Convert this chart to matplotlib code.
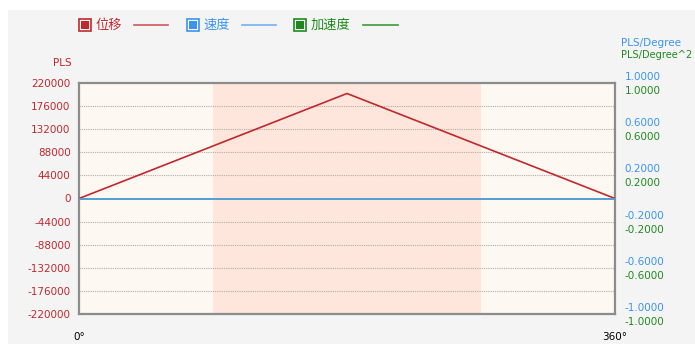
import matplotlib
matplotlib.use("Agg")
import matplotlib.pyplot as plt
import matplotlib.transforms as mtransforms
from matplotlib.lines import Line2D
from matplotlib.patches import Rectangle

plt.rcParams['font.family'] = ['DejaVu Sans', 'Noto Sans CJK SC']

# data
angles = [0, 180, 360]
displacement = [0, 200000, 0]
velocity = [0, 0, 0]
acceleration = [0, 0, 0]
zone = [90, 270]
left_ticks = [-220000, -176000, -132000, -88000, -44000, 0,
              44000, 88000, 132000, 176000, 220000]
right_ticks = [-1.0, -0.6, -0.2, 0.2, 0.6, 1.0]
legend_names = ["位移", "速度", "加速度"]

RED = "#c0282d"
BLUE = "#3a94f0"
GREEN = "#1e8a1e"
W, H = 695, 344

fig = plt.figure(figsize=(W / 100, H / 100), dpi=100, facecolor="white")
fig.patches.append(Rectangle((8 / W, 0), 1, 1 - 10 / H, transform=fig.transFigure,
                             facecolor="#f4f4f4", edgecolor="none", zorder=-10))

ax = fig.add_axes([79 / W, 30 / H, 536 / W, 231 / H])
ax.set_facecolor("#fdf8f1")
ax.axvspan(zone[0], zone[1], color="#fee6dc", lw=0, zorder=0)
ax.set_xlim(0, 360)
ax.set_ylim(-220000, 220000)
for v in left_ticks[1:-1]:
    if v != 0:
        ax.axhline(v, color="#b4aca4", lw=0.8, ls=(0, (1, 1)), zorder=1)
ax.plot(angles, displacement, color=RED, lw=1.2, zorder=4)

ax.set_yticks(left_ticks)
ax.set_yticklabels([str(v) for v in left_ticks])
ax.tick_params(axis="y", length=0, pad=6, labelsize=7.5, labelcolor=RED)
ax.set_xticks([0, 360])
ax.set_xticklabels(["0°", "360°"])
ax.tick_params(axis="x", length=0, pad=13, labelsize=7.5, labelcolor="black")
for s in ax.spines.values():
    s.set_color("#8c8c8c")
    s.set_linewidth(1.6)

# right axes: acceleration (green) under velocity (blue)
ax_a = ax.twinx()
ax_v = ax.twinx()
for a, col, dy in [(ax_v, BLUE, 7), (ax_a, GREEN, -7)]:
    a.set_ylim(-1, 1)
    a.set_yticks(right_ticks)
    a.set_yticklabels(["%.4f" % v for v in right_ticks])
    a.tick_params(axis="y", length=0, pad=7, labelsize=7.5, labelcolor=col)
    shift = mtransforms.ScaledTranslation(0, dy / 100, fig.dpi_scale_trans)
    for lbl in a.get_yticklabels():
        lbl.set_transform(lbl.get_transform() + shift)
    for s in a.spines.values():
        s.set_visible(False)
ax_a.plot(angles, acceleration, color=GREEN, lw=1.2, zorder=3)
ax_v.plot(angles, velocity, color="#5aa2f0", lw=1.2, zorder=3)

# axis titles
fig.text(72 / W, 1 - 63 / H, "PLS", color=RED, fontsize=7.5, ha="right", va="center")
fig.text(621 / W, 1 - 43 / H, "PLS/Degree", color=BLUE, fontsize=7.5, ha="left", va="center")
fig.text(621 / W, 1 - 55 / H, "PLS/Degree^2", color=GREEN, fontsize=7.1, ha="left", va="center")

# legend
legend_cols = [RED, BLUE, GREEN]
legend_line_cols = ["#d05858", "#70b0f4", "#3a9a3a"]
sq_x = [85, 193, 300]
txt_x = [96, 203, 311]
ln_x = [(134, 168), (242, 276), (363, 398)]
ly = 1 - 25 / H
for name, c, lc, sx, tx, (x0, x1) in zip(legend_names, legend_cols, legend_line_cols,
                                         sq_x, txt_x, ln_x):
    fig.add_artist(Line2D([sx / W], [ly], marker="s", markersize=8.5, markerfacecolor="white",
                          markeredgecolor=c, markeredgewidth=1.2, transform=fig.transFigure))
    fig.add_artist(Line2D([sx / W], [ly], marker="s", markersize=5.5, markerfacecolor=c,
                          markeredgecolor=c, markeredgewidth=0, transform=fig.transFigure))
    fig.text(tx / W, ly, name, color=c, fontsize=9.5, ha="left", va="center",
             family=["Noto Sans CJK SC", "DejaVu Sans"])
    fig.add_artist(Line2D([x0 / W, x1 / W], [ly, ly], color=lc, lw=1.2,
                          transform=fig.transFigure))

fig.savefig("out.png", dpi=100, facecolor=fig.get_facecolor())
